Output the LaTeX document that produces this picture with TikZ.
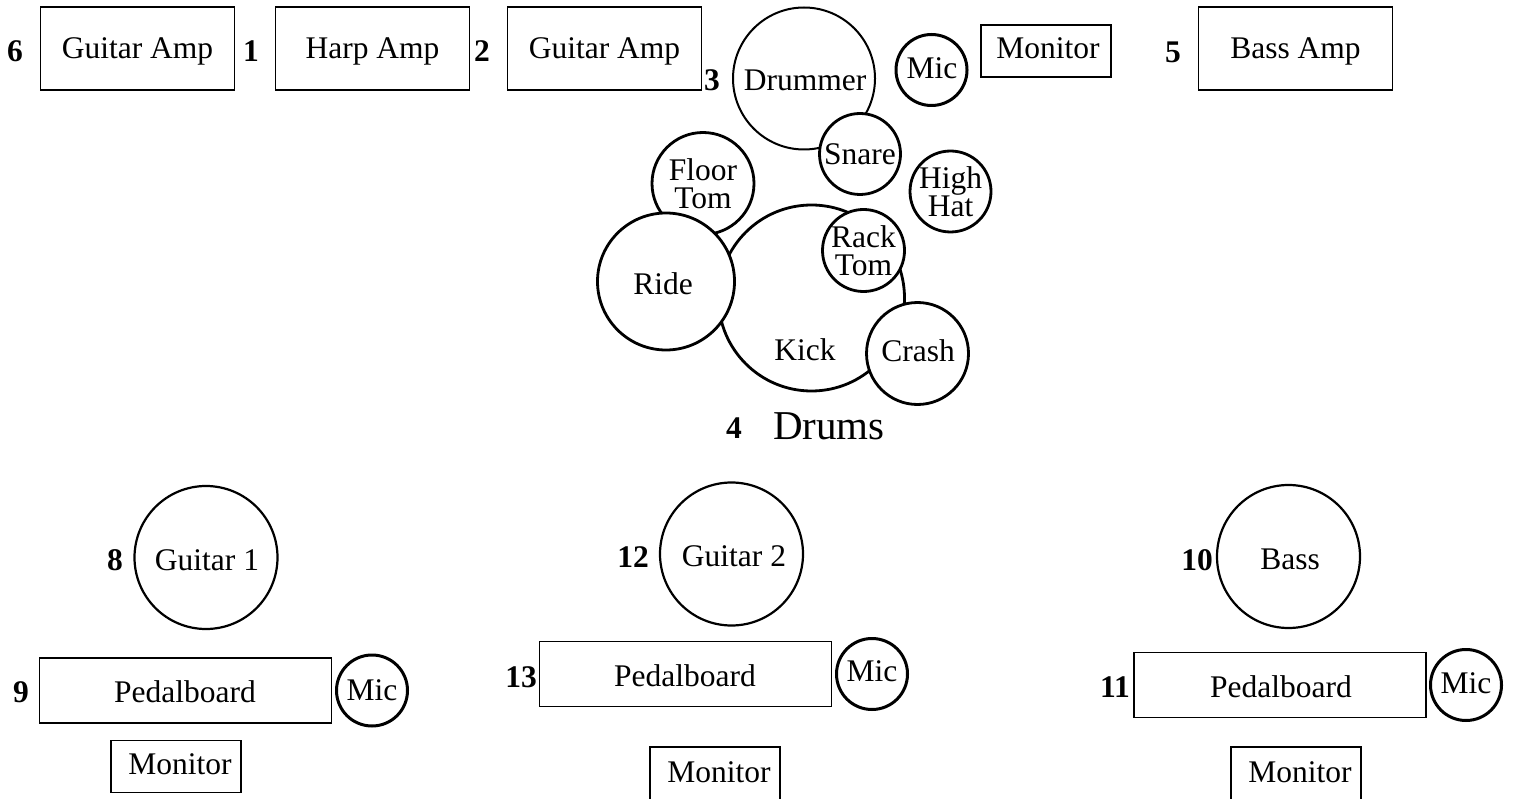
\documentclass[tikz,border=0pt]{standalone}
\usepackage{fontspec}
\setmainfont{Liberation Serif}
\begin{document}
\begin{tikzpicture}[x=1pt,y=-1pt,
  every node/.style={font=\fontsize{31.5}{28.5}\selectfont, inner sep=0pt, outer sep=0pt},
  box/.style={draw, line width=1.8pt, rectangle},
  ampbox/.style={box, minimum width=194pt, minimum height=83pt, text depth=0pt},
  pedbox/.style={box, minimum width=292pt, minimum height=65pt},
  monbox/.style={box, minimum width=130pt, minimum height=52pt},
  drum/.style={draw, circle, fill=white, line width=2.8pt, align=center},
  player/.style={draw, circle, line width=2.2pt, minimum size=143pt},
  micc/.style={draw, circle, fill=white, line width=3pt, minimum size=71pt},
  num/.style={font=\fontsize{31.5}{28}\selectfont\bfseries}
]
\useasboundingbox (0,0) rectangle (1514,799);
\clip (0,0) rectangle (1514,799);

% top row
\node[num] (n6) at (15,51) {6};
\node[ampbox] (amp6) at (137.5,48.5) {Guitar Amp};
\node[num] (n1) at (251,51) {1};
\node[ampbox] (harp) at (372.5,48.5) {Harp Amp};
\node[num] (n2) at (482,51) {2};
\node[ampbox] (amp2) at (604.5,48.5) {Guitar Amp};
\node[num] (n3) at (712,80) {3};
\node[draw, circle, line width=2pt, minimum size=142pt] (drummer) at (804,78.5) {};
\node (drummertxt) at (805,80) {Drummer};
\node[micc] (topmic) at (931.5,70) {};
\node (topmictxt) at (932,68) {Mic};
\node[monbox] (topmon) at (1046,51) {};
\node (topmontxt) at (1048,48) {Monitor};
\node[num] (n5) at (1173,52) {5};
\node[ampbox] (bassamp) at (1295.5,48.5) {Bass Amp};

% drum kit
\node[drum, minimum size=102pt] (floortom) at (703,183.5) {Floor\\Tom};
\node[drum, minimum size=186pt] (kick) at (811.5,298) {};
\node (kicktxt) at (805,350) {Kick};
\node[drum, minimum size=137pt] (ride) at (666,281.5) {};
\node (ridetxt) at (663,284) {Ride};
\node[drum, minimum size=81pt] (snare) at (860,154) {Snare};
\node[drum, minimum size=82pt] (racktom) at (863.5,250.5) {Rack\\Tom};
\node[drum, minimum size=102pt] (crash) at (917.5,353.5) {};
\node (crashtxt) at (918,351) {Crash};
\node[drum, minimum size=81pt] (highhat) at (950.5,191.5) {High\\Hat};
\node[num] (n4) at (734,428) {4};
\node[font=\fontsize{41}{41}\selectfont] (drums) at (829,426) {Drums};

% Guitar 1
\node[num] (n8) at (115,560) {8};
\node[player] (guitar1) at (206,557.5) {};
\node (guitar1txt) at (207,560) {Guitar 1};
\node[num] (n9) at (21,692) {9};
\node[pedbox] (ped9) at (185.5,690.5) {};
\node (ped9txt) at (185,692) {Pedalboard};
\node[micc] (mic9) at (372,690.5) {Mic};
\node[monbox] (mon9) at (176,766.5) {};
\node (mon9txt) at (180,764) {Monitor};

% Guitar 2
\node[num] (n12) at (633,557) {12};
\node[player] (guitar2) at (731.5,554) {};
\node (guitar2txt) at (734,556) {Guitar 2};
\node[num] (n13) at (521,677) {13};
\node[pedbox] (ped13) at (685.5,674) {};
\node (ped13txt) at (685,676) {Pedalboard};
\node[micc] (mic13) at (872,674) {};
\node (mic13txt) at (872,671) {Mic};
\node[box, minimum width=130pt, minimum height=62pt] (mon13) at (715,778) {};
\node (mon13txt) at (719,772) {Monitor};

% Bass
\node[num] (n10) at (1197,560) {10};
\node[player] (bass) at (1288.5,556.5) {};
\node (basstxt) at (1290,559) {Bass};
\node[num] (n11) at (1115,687) {11};
\node[pedbox] (ped11) at (1280,685) {};
\node (ped11txt) at (1281,687) {Pedalboard};
\node[micc] (mic11) at (1466,685) {};
\node (mic11txt) at (1466,683) {Mic};
\node[box, minimum width=130pt, minimum height=62pt] (mon11) at (1296,778) {};
\node (mon11txt) at (1300,772) {Monitor};
\end{tikzpicture}
\end{document}
